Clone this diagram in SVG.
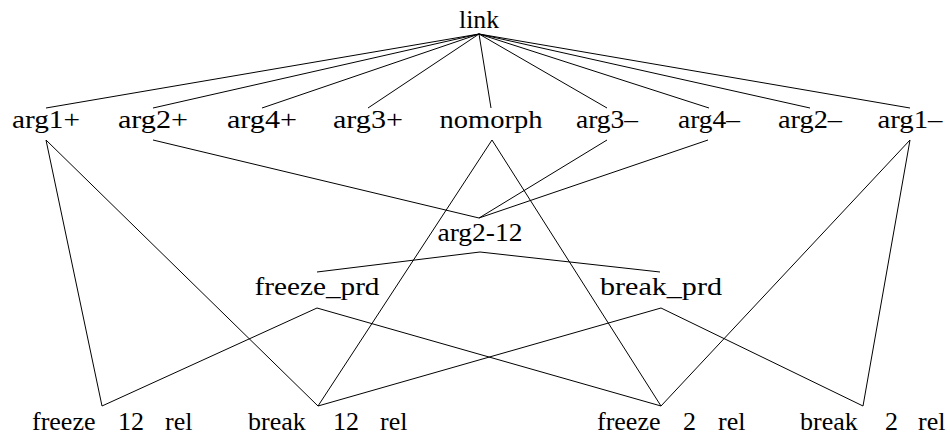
<svg xmlns="http://www.w3.org/2000/svg" width="950" height="436" viewBox="0 0 950 436">
  <style>
    .lbl { font-family: "Liberation Serif", "DejaVu Serif", "Times New Roman", serif; font-size: 26px; fill: #000; }
    .mid { text-anchor: middle; }
    .edge { stroke: #000; stroke-width: 1; fill: none; }
  </style>
  <rect width="950" height="436" fill="#fff"/>

  <!-- Connectors of the hierarchy -->
  <g id="connectors" class="edge">
    <!-- link to its direct subtypes -->
    <line x1="479" y1="34" x2="46" y2="108"/>
    <line x1="479" y1="34" x2="153" y2="108"/>
    <line x1="479" y1="34" x2="262" y2="108"/>
    <line x1="479" y1="34" x2="368" y2="108"/>
    <line x1="479" y1="34" x2="491" y2="108"/>
    <line x1="479" y1="34" x2="607" y2="108"/>
    <line x1="479" y1="34" x2="709" y2="108"/>
    <line x1="479" y1="34" x2="810" y2="108"/>
    <line x1="479" y1="34" x2="910" y2="108"/>
    <!-- arg1+ -->
    <line x1="46" y1="140" x2="102" y2="406"/>
    <line x1="46" y1="140" x2="318" y2="406"/>
    <!-- into arg2-12 -->
    <line x1="153" y1="140" x2="479" y2="218"/>
    <line x1="607" y1="140" x2="479" y2="218"/>
    <line x1="708" y1="140" x2="479" y2="218"/>
    <!-- nomorph -->
    <line x1="492" y1="140" x2="318" y2="406"/>
    <line x1="492" y1="140" x2="661" y2="406"/>
    <!-- arg1- -->
    <line x1="910" y1="140" x2="661" y2="406"/>
    <line x1="910" y1="140" x2="863" y2="406"/>
    <!-- arg2-12 -->
    <line x1="480" y1="252" x2="317" y2="272"/>
    <line x1="480" y1="252" x2="660" y2="272"/>
    <!-- freeze_prd -->
    <line x1="317" y1="308" x2="102" y2="406"/>
    <line x1="317" y1="308" x2="661" y2="406"/>
    <!-- break_prd -->
    <line x1="661" y1="308" x2="318" y2="406"/>
    <line x1="661" y1="308" x2="863" y2="406"/>
  </g>

  <!-- Nodes -->
  <g id="link"><text class="lbl mid" x="479" y="28" textLength="40" lengthAdjust="spacingAndGlyphs">link</text></g>

  <g id="arg1plus"><text class="lbl mid" x="46" y="128" textLength="68" lengthAdjust="spacingAndGlyphs">arg1+</text></g>
  <g id="arg2plus"><text class="lbl mid" x="153" y="128" textLength="70" lengthAdjust="spacingAndGlyphs">arg2+</text></g>
  <g id="arg4plus"><text class="lbl mid" x="262" y="128" textLength="70" lengthAdjust="spacingAndGlyphs">arg4+</text></g>
  <g id="arg3plus"><text class="lbl mid" x="368" y="128" textLength="70" lengthAdjust="spacingAndGlyphs">arg3+</text></g>
  <g id="nomorph"><text class="lbl mid" x="491" y="128" textLength="103" lengthAdjust="spacingAndGlyphs">nomorph</text></g>
  <g id="arg3minus"><text class="lbl mid" x="607" y="128" textLength="62" lengthAdjust="spacingAndGlyphs">arg3–</text></g>
  <g id="arg4minus"><text class="lbl mid" x="709" y="128" textLength="62" lengthAdjust="spacingAndGlyphs">arg4–</text></g>
  <g id="arg2minus"><text class="lbl mid" x="810" y="128" textLength="64" lengthAdjust="spacingAndGlyphs">arg2–</text></g>
  <g id="arg1minus"><text class="lbl mid" x="910" y="128" textLength="65" lengthAdjust="spacingAndGlyphs">arg1–</text></g>

  <g id="arg2-12"><text class="lbl mid" x="480" y="241" textLength="85" lengthAdjust="spacingAndGlyphs">arg2-12</text></g>
  <g id="freeze_prd"><text class="lbl mid" x="317" y="295" textLength="125" lengthAdjust="spacingAndGlyphs">freeze_prd</text></g>
  <g id="break_prd"><text class="lbl mid" x="661" y="295" textLength="122" lengthAdjust="spacingAndGlyphs">break_prd</text></g>

  <g id="freeze_12_rel"><text class="lbl" y="430"><tspan x="32">freeze</tspan><tspan x="118">12</tspan><tspan x="165">rel</tspan></text></g>
  <g id="break_12_rel"><text class="lbl" y="430"><tspan x="248">break</tspan><tspan x="333">12</tspan><tspan x="380">rel</tspan></text></g>
  <g id="freeze_2_rel"><text class="lbl" y="430"><tspan x="597">freeze</tspan><tspan x="683">2</tspan><tspan x="718">rel</tspan></text></g>
  <g id="break_2_rel"><text class="lbl" y="430"><tspan x="800">break</tspan><tspan x="885">2</tspan><tspan x="918">rel</tspan></text></g>
</svg>
